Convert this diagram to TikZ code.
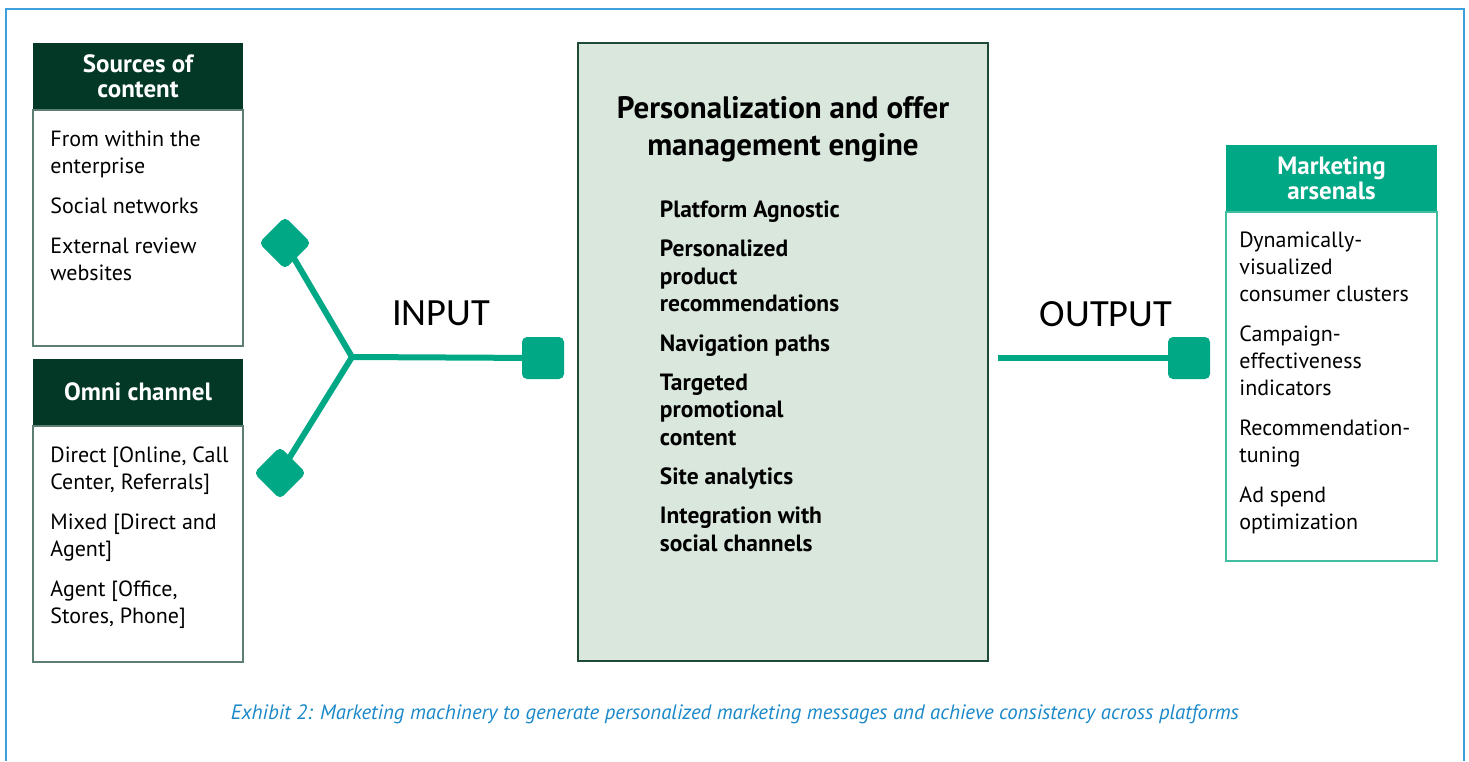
\documentclass[tikz,border=0pt]{standalone}
\usepackage{fontspec}
\setmainfont{PT Sans}
\newfontfamily\calfont{Carlito}
\usetikzlibrary{positioning,calc}

\definecolor{hdrdark}{RGB}{3,56,38}
\definecolor{linkteal}{RGB}{0,168,134}
\definecolor{mktline}{RGB}{63,190,160}
\definecolor{bodyline}{RGB}{93,126,114}
\definecolor{engfill}{RGB}{218,231,220}
\definecolor{engline}{RGB}{30,75,54}
\definecolor{frameblue}{RGB}{61,159,219}
\definecolor{captionblue}{RGB}{26,136,201}

\begin{document}
\begin{tikzpicture}[
			x=1pt, y=-1pt,
			node distance=0pt,
			header/.style={rectangle, fill=hdrdark, text=white, minimum width=210pt, minimum height=66pt, inner sep=0pt, align=center, font=\fontsize{25}{25}\selectfont\bfseries},
			listbox/.style={rectangle, draw=bodyline, line width=1.6pt, minimum width=210pt, inner sep=0pt},
			listtext/.style={anchor=north west, inner sep=0pt, align=left, font=\fontsize{22}{27}\selectfont},
			enginetext/.style={anchor=north west, inner sep=0pt, align=left, font=\fontsize{23.5}{27.5}\selectfont\bfseries},
			link/.style={draw=linkteal, line width=6pt},
			diamondcap/.style={rectangle, fill=linkteal, minimum size=37pt, rotate=45, rounded corners=5pt, inner sep=0pt},
			squarecap/.style={rectangle, fill=linkteal, minimum size=42pt, rounded corners=5pt, inner sep=0pt},
			flowlabel/.style={font=\calfont\fontsize{38.5}{40}\selectfont}
		]

		\useasboundingbox (0,0) rectangle (1469,761);
		\draw[frameblue, line width=2pt] (6,761) -- (6,9) -- (1464,9) -- (1464,761);

		% left column
		\node (srchead) [header] at (138,76) {Sources of\\content};
		\node (srcbody) [listbox, below=0pt of srchead, minimum height=236pt] {};
		\node (srctext) [listtext] at ($(srcbody.north west)+(18,22)$) {From within the\\enterprise\\[13pt]Social networks\\[13pt]External review\\websites};

		\node (omnihead) [header] at (138,392) {Omni channel};
		\node (omnibody) [listbox, below=0pt of omnihead, minimum height=236pt] {};
		\node (omnitext) [listtext] at ($(omnibody.north west)+(18,21)$) {Direct [Online, Call\\Center, Referrals]\\[13pt]Mixed [Direct and\\Agent]\\[13pt]Agent [Office,\\Stores, Phone]};

		% engine
		\node (engine) [rectangle, fill=engfill, draw=engline, line width=2.5pt, minimum width=410pt, minimum height=618pt] at (783,352) {};
		\node (enginetitle) [align=center, font=\fontsize{31}{37}\selectfont\bfseries] at (783,129) {Personalization and offer\\management engine};
		\node (enginelist) [enginetext] at ($(engine.north west)+(83,159)$) {Platform Agnostic\\[11.7pt]Personalized\\product\\recommendations\\[11.7pt]Navigation paths\\[11.7pt]Targeted\\promotional\\content\\[11.7pt]Site analytics\\[11.7pt]Integration with\\social channels};

		% right column
		\node (mkthead) [header, fill=linkteal, minimum width=211pt] at (1331.5,178) {Marketing\\arsenals};
		\node (mktbody) [listbox, draw=mktline, minimum width=211pt, below=0pt of mkthead, minimum height=349pt] {};
		\node (mkttext) [listtext] at ($(mktbody.north west)+(14,21)$) {Dynamically-\\visualized\\consumer clusters\\[13pt]Campaign-\\effectiveness\\indicators\\[13pt]Recommendation-\\tuning\\[13pt]Ad spend\\optimization};

		% connectors
		\coordinate (junction) at (352,357);
		\coordinate (outstart) at (998,358);
		\node (diaup) [diamondcap] at (285,243) {};
		\node (dialow) [diamondcap] at (280,473) {};
		\node (insq) [squarecap] at (543,358) {};
		\node (outsq) [squarecap] at (1189,358) {};
		\draw[link] (diaup.center) -- (junction);
		\draw[link] (dialow.center) -- (junction);
		\draw[link] (junction) -- (insq.center);
		\draw[link] (outstart) -- (outsq.center);

		\node (inlabel) [flowlabel] at (441,313) {INPUT};
		\node (outlabel) [flowlabel] at (1106,314) {OUTPUT};

		\node (caption) [text=captionblue, font=\fontsize{20.8}{24}\selectfont\itshape] at (735,714) {Exhibit 2: Marketing machinery to generate personalized marketing messages and achieve consistency across platforms};
	\end{tikzpicture}
\end{document}
